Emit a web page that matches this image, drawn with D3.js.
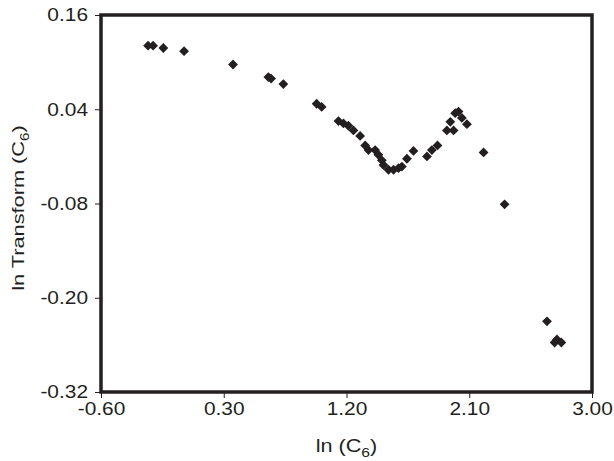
<!DOCTYPE html>
<meta charset="utf-8" />
<title>ln Transform (C6) vs ln (C6)</title>
<script src="https://d3js.org/d3.v7.min.js"></script>
<style>
    body {
        margin: 0;
        background: #fff;
    }
    text {
        font-family: 'Liberation Sans', Arial, sans-serif;
        fill: #231f20;
    }
    .axis text {
        font-size: 18px;
    }
    .axis path {
        display: none;
    }
    .axis line {
        stroke: #231f20;
    }
</style>
<div id="chart"></div>
<script>
// values
var lnC6 = [-0.255, -0.218, -0.143, 0.009, 0.368, 0.627, 0.647, 0.737, 0.981, 1.018,
    1.141, 1.178, 1.214, 1.251, 1.300, 1.337, 1.361, 1.410, 1.434, 1.459,
    1.471, 1.508, 1.545, 1.581, 1.606, 1.643, 1.691, 1.790, 1.826, 1.867,
    1.936, 1.985, 1.961, 1.997, 2.021, 2.046, 2.083, 2.205, 2.359, 2.670,
    2.726, 2.743, 2.775];
var lnTransform = [0.121, 0.121, 0.118, 0.114, 0.097, 0.081, 0.079, 0.072, 0.047, 0.043,
    0.025, 0.022, 0.019, 0.013, 0.006, -0.006, -0.012, -0.012, -0.018, -0.025,
    -0.031, -0.037, -0.037, -0.035, -0.033, -0.023, -0.013, -0.020, -0.012, -0.006,
    0.013, 0.013, 0.024, 0.035, 0.037, 0.029, 0.021, -0.015, -0.081, -0.230,
    -0.257, -0.253, -0.257];
var xTicks = [-0.60, 0.30, 1.20, 2.10, 3.00];
var yTicks = [0.16, 0.04, -0.08, -0.20, -0.32];

var margin = { top: 15, right: 22, bottom: 69, left: 101 },
    width = 614 - margin.left - margin.right,
    height = 461 - margin.top - margin.bottom;

var svg = d3.select("#chart").append("svg")
    .attr("width", 614)
    .attr("height", 461);
var g = svg.append("g")
    .attr("transform", "translate(" + margin.left + "," + margin.top + ")");

var x = d3.scaleLinear().domain([-0.6, 3.0]).range([0, width]);
var y = d3.scaleLinear().domain([-0.32, 0.16]).range([height, 0]);
var fmt = function(d) { return d.toFixed(2); };

// the source font sets wider than Liberation Sans, so widen the text a bit
function widen(sel, k) {
    sel.each(function() {
        var len = this.getComputedTextLength();
        d3.select(this).attr("textLength", len * k).attr("lengthAdjust", "spacingAndGlyphs");
    });
}

var xAxis = g.append("g")
    .attr("class", "axis")
    .attr("transform", "translate(0," + height + ")")
    .call(d3.axisBottom(x).tickValues(xTicks).tickFormat(fmt).tickSize(6).tickPadding(4));
var yAxis = g.append("g")
    .attr("class", "axis")
    .call(d3.axisLeft(y).tickValues(yTicks).tickFormat(fmt).tickSize(6).tickPadding(7));
widen(xAxis.selectAll("text"), 1.16);
widen(yAxis.selectAll("text"), 1.16);

// frame
g.append("rect")
    .attr("width", width)
    .attr("height", height)
    .attr("fill", "none")
    .attr("stroke", "#231f20")
    .attr("stroke-width", 3.5);

var pts = lnC6.map(function(d, i) { return { x: d, y: lnTransform[i] }; });
var diamond = d3.symbol().type(d3.symbolSquare).size(48);
g.selectAll(".pt")
    .data(pts)
    .enter().append("path")
    .attr("class", "pt")
    .attr("d", diamond)
    .attr("transform", function(d) { return "translate(" + x(d.x) + "," + y(d.y) + ") rotate(45)"; })
    .attr("fill", "#231f20");

// axis titles
var xt = svg.append("text")
    .attr("x", margin.left + width / 2)
    .attr("y", 452)
    .attr("text-anchor", "middle")
    .style("font-size", "18px");
xt.append("tspan").text("ln (C");
xt.append("tspan").attr("dy", 5).style("font-size", "13px").text("6");
xt.append("tspan").attr("dy", -5).text(")");
widen(xt, 1.2);

var yt = svg.append("text")
    .attr("transform", "translate(24,208) rotate(-90)")
    .attr("text-anchor", "middle")
    .style("font-size", "17px");
yt.append("tspan").text("ln Transform (C");
yt.append("tspan").attr("dy", 5).style("font-size", "12px").text("6");
yt.append("tspan").attr("dy", -5).text(")");
widen(yt, 1.28);
</script>
